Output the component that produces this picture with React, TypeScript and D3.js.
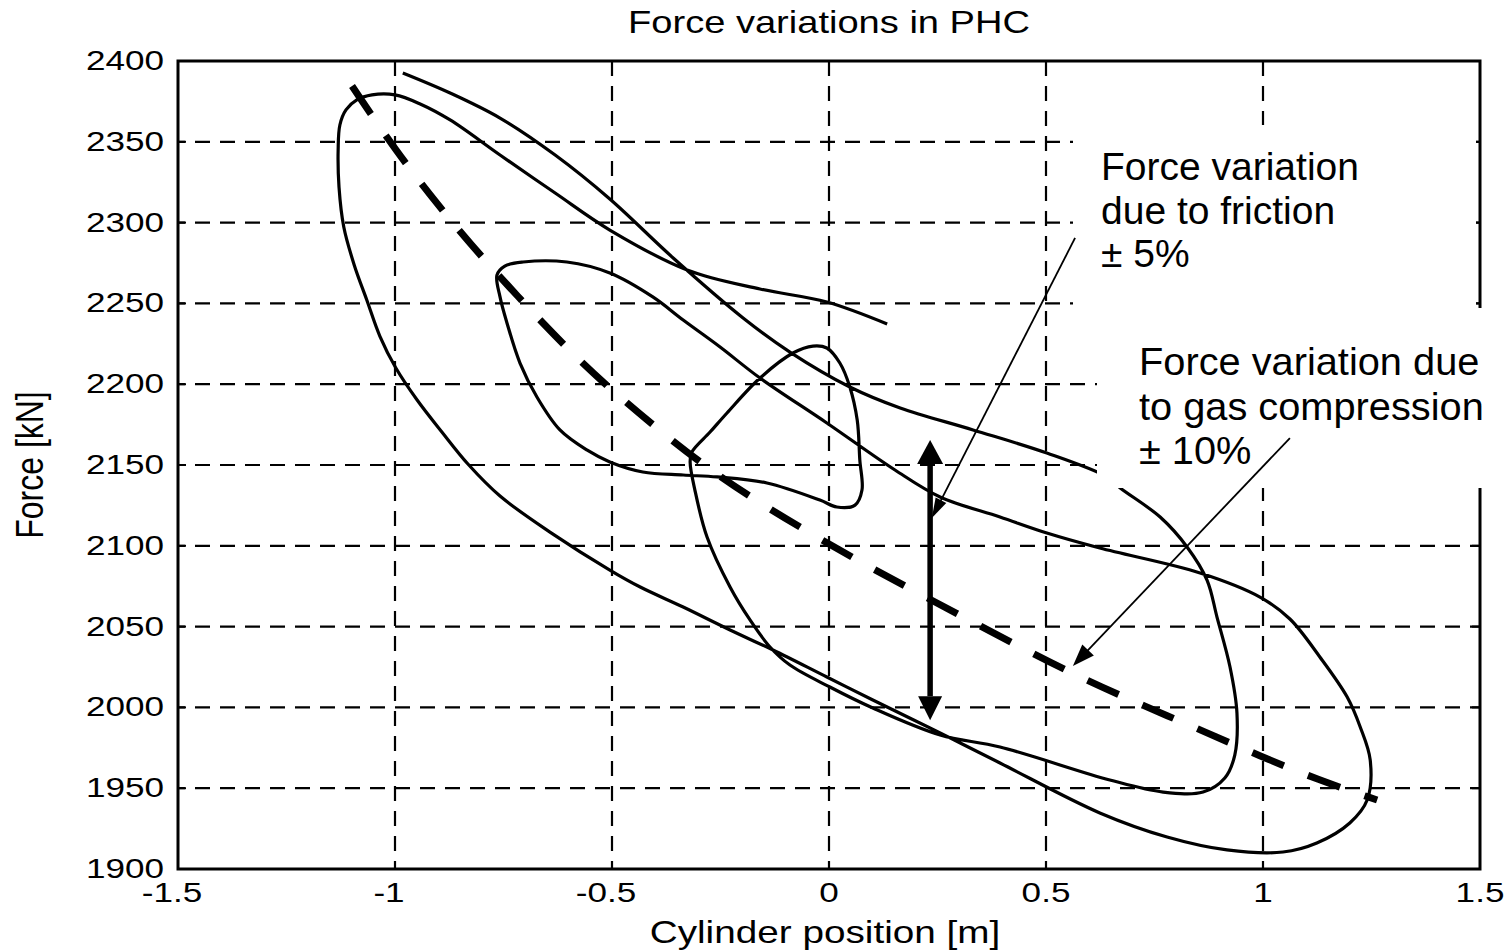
import React from 'react';
import * as d3 from 'd3';

// ---------------- data ----------------
const xTickValues = [-1.5, -1, -0.5, 0, 0.5, 1, 1.5];
const xTickLabels = ['-1.5', '-1', '-0.5', '0', '0.5', '1', '1.5'];
const yTickValues = [1900, 1950, 2000, 2050, 2100, 2150, 2200, 2250, 2300, 2350, 2400];
const yTickLabels = ['1900', '1950', '2000', '2050', '2100', '2150', '2200', '2250', '2300', '2350', '2400'];

const chartTitle = 'Force variations in PHC';
const xAxisTitle = 'Cylinder position [m]';
const yAxisTitle = 'Force [kN]';
const frictionNote = ['Force variation', 'due to friction', '\u00b1 5%'];
const gasNote = ['Force variation due', 'to gas compression', '\u00b1 10%'];

// measured trajectory (cylinder position [m], force [kN]) split in strokes
const strokeA: [number, number][] = [
  [-0.982, 2392.6], [-0.873, 2380.2], [-0.758, 2364.7], [-0.631, 2341.8], [-0.505, 2314.6],
  [-0.359, 2278.1], [-0.198, 2241.0], [-0.090, 2219.9], [0.048, 2198.3], [0.164, 2185.3],
  [0.332, 2171.7], [0.502, 2157.4], [0.641, 2142.6], [0.671, 2135.8], [0.763, 2117.8],
  [0.825, 2099.3], [0.871, 2078.8], [0.894, 2055.9], [0.924, 2025.0], [0.940, 1996.5],
  [0.935, 1970.5], [0.912, 1956.3], [0.862, 1947.6],
];
const strokeB: [number, number][] = [
  [0.770, 1947.6], [0.647, 1955.1], [0.394, 1975.5], [0.256, 1982.9], [0.101, 1999.6],
  [0.002, 2012.6], [-0.090, 2026.2], [-0.136, 2037.4], [-0.182, 2054.1], [-0.228, 2074.5],
  [-0.281, 2105.4], [-0.309, 2134.5], [-0.320, 2151.9], [-0.316, 2158.0],
];
const strokeC: [number, number][] = [
  [-0.274, 2170.4], [-0.235, 2182.2], [-0.159, 2203.8], [-0.083, 2219.3], [-0.037, 2223.6],
  [-0.005, 2222.4], [0.025, 2213.1], [0.048, 2198.3], [0.065, 2177.8], [0.071, 2153.1],
  [0.076, 2134.5], [0.060, 2125.2], [0.018, 2124.0], [-0.021, 2128.3], [-0.143, 2138.9],
  [-0.258, 2142.6], [-0.336, 2143.8],
];
const strokeD: [number, number][] = [
  [-0.429, 2145.7], [-0.505, 2151.9], [-0.558, 2159.3], [-0.620, 2171.7], [-0.673, 2192.1],
  [-0.712, 2213.1], [-0.742, 2237.9], [-0.758, 2254.0], [-0.765, 2267.6], [-0.747, 2273.1],
  [-0.705, 2275.6], [-0.604, 2275.6], [-0.505, 2268.8], [-0.406, 2254.0], [-0.336, 2239.7],
  [-0.251, 2223.0],
];
const strokeE: [number, number][] = [
  [-0.159, 2203.8], [-0.005, 2176.0], [0.152, 2146.9], [0.256, 2130.2], [0.394, 2117.8],
  [0.502, 2107.9], [0.624, 2098.6], [0.855, 2083.2], [0.993, 2068.3], [1.062, 2054.7],
  [1.131, 2031.2], [1.194, 2006.4], [1.224, 1987.9], [1.247, 1967.5], [1.240, 1942.7],
  [1.200, 1928.5], [1.124, 1916.1], [1.046, 1910.5],
];
const strokeF: [number, number][] = [
  [0.917, 1911.8], [0.779, 1919.8], [0.624, 1934.7], [0.394, 1965.6], [0.256, 1984.2],
  [0.101, 2004.6], [-0.005, 2018.8], [-0.129, 2035.5], [-0.228, 2047.9], [-0.336, 2062.1],
  [-0.435, 2074.5], [-0.505, 2085.0], [-0.643, 2108.5], [-0.758, 2130.8], [-0.832, 2150.6],
  [-0.892, 2170.4], [-0.949, 2190.2], [-0.998, 2210.0], [-1.035, 2229.8], [-1.065, 2252.1],
  [-1.094, 2273.8], [-1.118, 2297.3], [-1.129, 2322.0], [-1.131, 2344.9], [-1.127, 2360.4],
  [-1.113, 2369.7], [-1.088, 2375.9], [-1.053, 2379.0], [-1.000, 2379.0],
];
const strokeG: [number, number][] = [
  [-0.942, 2373.4], [-0.873, 2363.5], [-0.758, 2341.8], [-0.631, 2318.3], [-0.505, 2295.4],
  [-0.327, 2270.7], [-0.159, 2258.9], [-0.005, 2250.9], [0.134, 2237.3],
];

// mean force characteristic (thick dashed)
const meanLine: [number, number][] = [
  [-1.099, 2384.5], [-0.995, 2343.1], [-0.908, 2313.4], [-0.816, 2283.0], [-0.620, 2226.1],
  [-0.512, 2198.9], [-0.403, 2174.1], [-0.293, 2150.6], [-0.171, 2128.3], [-0.044, 2107.9],
  [0.076, 2089.4], [0.205, 2070.8], [0.461, 2034.3], [0.592, 2016.9], [0.726, 2000.9],
  [0.857, 1986.0], [0.993, 1969.9], [1.127, 1955.1], [1.263, 1942.7],
];

// double arrow (friction band) and annotation pointers
const bandPosition = [0.233];
const bandForce = [2165.5, 1992];
const frictionPointer: [number, number][] = [[0.567, 2290.5], [0.237, 2117.2]];
const gasPointer: [number, number][] = [[1.062, 2166.7], [0.562, 2025.6]];

// ---------------- layout ----------------
const W = 1512;
const H = 951;
const L = 178;
const R = 1480;
const T = 61;
const B = 869;
const FONT = "'Liberation Sans', Arial, Helvetica, sans-serif";

const x = d3.scaleLinear().domain([-1.5, 1.5]).range([L, R]);
const y = d3.scaleLinear().domain([1900, 2400]).range([B, T]);

const curveGen = d3
  .line<[number, number]>()
  .x((d) => x(d[0]))
  .y((d) => y(d[1]))
  .curve(d3.curveCatmullRom.alpha(0.5));

const meanGen = d3
  .line<[number, number]>()
  .x((d) => x(d[0]))
  .y((d) => y(d[1]))
  .curve(d3.curveBasis);

function head(tip: [number, number], from: [number, number], len: number, half: number) {
  const dx = tip[0] - from[0];
  const dy = tip[1] - from[1];
  const n = Math.hypot(dx, dy);
  const ux = dx / n;
  const uy = dy / n;
  const bx = tip[0] - ux * len;
  const by = tip[1] - uy * len;
  const pts = [
    [tip[0], tip[1]],
    [bx - uy * half, by + ux * half],
    [bx + uy * half, by - ux * half],
  ];
  return { points: pts.map((p) => p.join(',')).join(' '), base: [bx, by] as [number, number] };
}

function Pointer({ seg, len, half }: { seg: [number, number][]; len: number; half: number }) {
  const from: [number, number] = [x(seg[0][0]), y(seg[0][1])];
  const tip: [number, number] = [x(seg[1][0]), y(seg[1][1])];
  const h = head(tip, from, len, half);
  return (
    <g>
      <line x1={from[0]} y1={from[1]} x2={h.base[0] + (tip[0] - h.base[0]) * 0.3} y2={h.base[1] + (tip[1] - h.base[1]) * 0.3} stroke="#000" strokeWidth={1.8} />
      <polygon points={h.points} fill="#000" />
    </g>
  );
}

export default function App() {
  const fullPath = [
    ...strokeA,
    ...strokeB,
    ...strokeC,
    ...strokeD,
    ...strokeE,
    ...strokeF,
    ...strokeG,
  ];

  const bx = x(bandPosition[0]);
  const topTip: [number, number] = [bx, y(bandForce[0])];
  const botTip: [number, number] = [bx, y(bandForce[1])];
  const topHead = head(topTip, botTip, 24, 13);
  const botHead = head(botTip, topTip, 24, 12);

  return (
    <svg
      width={W}
      height={H}
      viewBox={`0 0 ${W} ${H}`}
      style={{ position: 'absolute', left: 0, top: 0, background: '#fff' }}
    >
      <rect x={0} y={0} width={W} height={H} fill="#fff" />

      {/* grid */}
      {yTickValues
        .filter((v) => v !== 1900 && v !== 2400)
        .map((v) => (
          <line key={'gy' + v} x1={L} x2={R} y1={y(v)} y2={y(v)} stroke="#000" strokeWidth={2.2} strokeDasharray="15 10" strokeDashoffset={8} />
        ))}
      {xTickValues
        .filter((v) => v !== -1.5 && v !== 1.5)
        .map((v) => (
          <line key={'gx' + v} x1={x(v)} x2={x(v)} y1={T} y2={B} stroke="#000" strokeWidth={2.2} strokeDasharray="15 10" />
        ))}

      {/* ticks */}
      {yTickValues.map((v) => (
        <g key={'ty' + v}>
          <line x1={L} x2={L + 8} y1={y(v)} y2={y(v)} stroke="#000" strokeWidth={2} />
          <line x1={R - 8} x2={R} y1={y(v)} y2={y(v)} stroke="#000" strokeWidth={2} />
        </g>
      ))}
      {xTickValues.map((v) => (
        <g key={'tx' + v}>
          <line x1={x(v)} x2={x(v)} y1={B} y2={B - 8} stroke="#000" strokeWidth={2} />
          <line x1={x(v)} x2={x(v)} y1={T} y2={T + 8} stroke="#000" strokeWidth={2} />
        </g>
      ))}

      {/* axes box */}
      <rect x={L} y={T} width={R - L} height={B - T} fill="none" stroke="#000" strokeWidth={3} />

      {/* trajectory */}
      <path d={curveGen(fullPath) || ''} fill="none" stroke="#000" strokeWidth={3.2} strokeLinejoin="round" />

      {/* mean characteristic */}
      <path d={meanGen(meanLine) || ''} fill="none" stroke="#000" strokeWidth={7} strokeDasharray="34 26" />

      {/* double arrow */}
      <line x1={bx} x2={bx} y1={topHead.base[1]} y2={botHead.base[1]} stroke="#000" strokeWidth={5.5} />
      <polygon points={topHead.points} fill="#000" />
      <polygon points={botHead.points} fill="#000" />

      {/* annotation backgrounds */}
      <rect x={1073} y={125} width={403} height={180} fill="#fff" />
      <rect x={1097} y={308} width={415} height={180} fill="#fff" />

      {/* annotation text */}
      <g fontFamily={FONT} fontSize={39} fill="#000">
        {frictionNote.map((t, i) => (
          <text key={'fn' + i} x={1101} y={180 + i * 43.5}>
            {t}
          </text>
        ))}
        {gasNote.map((t, i) => (
          <text key={'gn' + i} transform={`translate(1139,${375 + i * 44.5}) scale(1.02,1)`}>
            {t}
          </text>
        ))}
      </g>

      <Pointer seg={frictionPointer} len={20} half={6} />
      <Pointer seg={gasPointer} len={22} half={8} />

      {/* tick labels */}
      <g fontFamily={FONT} fontSize={27} fill="#000">
        {yTickValues.map((v, i) => (
          <text key={'ly' + v} transform={`translate(164,${y(v) + 9}) scale(1.3,1)`} textAnchor="end">
            {yTickLabels[i]}
          </text>
        ))}
        {xTickValues.map((v, i) => (
          <text
            key={'lx' + v}
            transform={`translate(${x(v) + (v < 0 ? -6 : 0)},902) scale(1.3,1)`}
            textAnchor="middle"
          >
            {xTickLabels[i]}
          </text>
        ))}
      </g>

      {/* titles */}
      <text transform={`translate(${(L + R) / 2},33) scale(1.19,1)`} textAnchor="middle" fontFamily={FONT} fontSize={32} fill="#000">
        {chartTitle}
      </text>
      <text transform={`translate(${(L + R) / 2 - 4},943) scale(1.21,1)`} textAnchor="middle" fontFamily={FONT} fontSize={32} fill="#000">
        {xAxisTitle}
      </text>
      <text transform={`translate(43,${(T + B) / 2}) rotate(-90) scale(1,1.2)`} textAnchor="middle" fontFamily={FONT} fontSize={32} fill="#000">
        {yAxisTitle}
      </text>
    </svg>
  );
}
